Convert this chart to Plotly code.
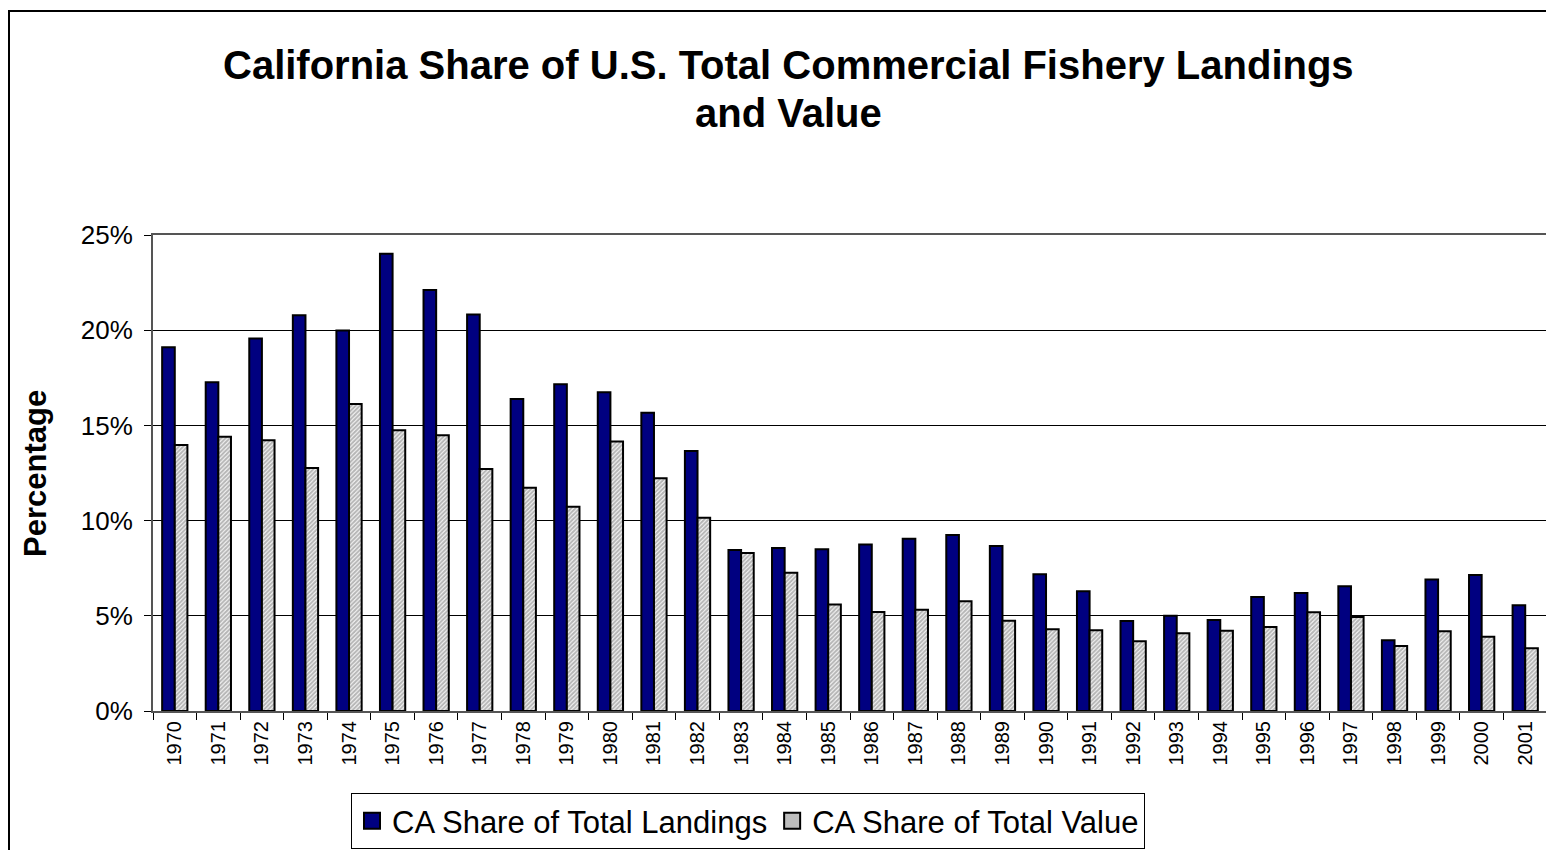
import plotly.graph_objects as go

years = [str(y) for y in range(1970, 2002)]
landings = [19.10, 17.26, 19.57, 20.78, 19.98, 24.02, 22.11, 20.83, 16.39, 17.16,
            16.74, 15.67, 13.66, 8.46, 8.56, 8.49, 8.75, 9.05, 9.24, 8.67,
            7.18, 6.29, 4.73, 5.00, 4.78, 5.99, 6.20, 6.55, 3.71, 6.90,
            7.14, 5.55]
value = [13.97, 14.41, 14.22, 12.76, 16.12, 14.74, 14.48, 12.71, 11.73, 10.73,
         14.16, 12.22, 10.15, 8.30, 7.26, 5.60, 5.20, 5.32, 5.76, 4.74,
         4.29, 4.24, 3.66, 4.08, 4.22, 4.41, 5.18, 4.94, 3.41, 4.19,
         3.90, 3.29]
series_names = ["CA Share of Total Landings", "CA Share of Total Value"]
title_lines = ["California Share of U.S. Total Commercial Fishery Landings", "and Value"]
y_title = "Percentage"

W, H = 1554, 850
OFF = 8  # page body margin
# plot area in page pixels: x 153..1547, y 235..711
PL, PR, PT, PB = 153, 1547, 235, 711
ML, MT = PL - OFF, PT - OFF
MR = W - (PR - OFF)
MB = H - (PB - OFF)
PW, PH = PR - PL, PB - PT

def px2x(px):
    return (px - PL) / PW

def px2y(py):
    return (PB - py) / PH

NAVY = "#000080"
fig = go.Figure()
fig.add_trace(go.Bar(
    x=years, y=[v / 100 for v in landings], name=series_names[0], showlegend=False,
    marker=dict(color=NAVY, line=dict(color="black", width=2)),
))
fig.add_trace(go.Bar(
    x=years, y=[v / 100 for v in value], name=series_names[1], showlegend=False,
    marker=dict(color="white", line=dict(color="black", width=2),
                pattern=dict(shape="/", size=3, solidity=0.7, fgcolor="#6e6e6e", bgcolor="white")),
))
# legend entries with larger square swatches
fig.add_trace(go.Scatter(x=[years[0]], y=[None], mode="markers", name=series_names[0],
                         marker=dict(symbol="square", size=16, color=NAVY, line=dict(color="black", width=2))))
fig.add_trace(go.Scatter(x=[years[0]], y=[None], mode="markers", name=series_names[1],
                         marker=dict(symbol="square", size=16, color="#bdbdbd", line=dict(color="black", width=2))))

fig.update_layout(
    width=W, height=H,
    margin=dict(l=ML, r=MR, t=MT, b=MB, autoexpand=False),
    paper_bgcolor="white", plot_bgcolor="white",
    barmode="group", bargap=0.42, bargroupgap=0,
    font=dict(family="Liberation Sans, Arial, sans-serif", color="black"),
    showlegend=True,
    legend=dict(orientation="h", x=px2x(748), y=px2y(793), xanchor="center", yanchor="top",
                bordercolor="black", borderwidth=1, bgcolor="white",
                font=dict(size=31, color="black"), itemwidth=30, tracegroupgap=0,
                itemclick=False, itemdoubleclick=False),
    xaxis=dict(type="category", range=[-0.5, len(years) - 0.5], autorange=False,
               tickangle=-90, tickfont=dict(size=20, color="black"),
               ticks="outside", ticklen=7, tickcolor="black", tickson="boundaries",
               showline=True, linecolor="#555555", linewidth=2, mirror=True,
               showgrid=False),
    yaxis=dict(range=[0, 0.25], autorange=False, tickvals=[0, 0.05, 0.10, 0.15, 0.20, 0.25], tickformat=".0%",
               tickfont=dict(size=26, color="black"), ticks="outside", ticklen=7, tickcolor="black",
               showline=True, linecolor="#555555", linewidth=2, mirror=True,
               showgrid=True, gridcolor="black", gridwidth=1, zeroline=False,
               ticklabelstandoff=6),
    annotations=[
        dict(text="<b>%s</b>" % title_lines[0], x=px2x(788), y=px2y(65), xref="paper", yref="paper",
             showarrow=False, font=dict(size=40, color="black"), xanchor="center", yanchor="middle"),
        dict(text="<b>%s</b>" % title_lines[1], x=px2x(788), y=px2y(113), xref="paper", yref="paper",
             showarrow=False, font=dict(size=40, color="black"), xanchor="center", yanchor="middle"),
        dict(text="<b>%s</b>" % y_title, x=px2x(35), y=0.5, xref="paper", yref="paper",
             showarrow=False, textangle=-90, font=dict(size=31, color="black"),
             xanchor="center", yanchor="middle"),
    ],
    shapes=[dict(type="rect", xref="paper", yref="paper",
                 x0=px2x(9), x1=px2x(1580), y0=px2y(880), y1=px2y(11),
                 line=dict(color="black", width=2), fillcolor="rgba(0,0,0,0)", layer="below")],
)

fig.write_html("out.html")
